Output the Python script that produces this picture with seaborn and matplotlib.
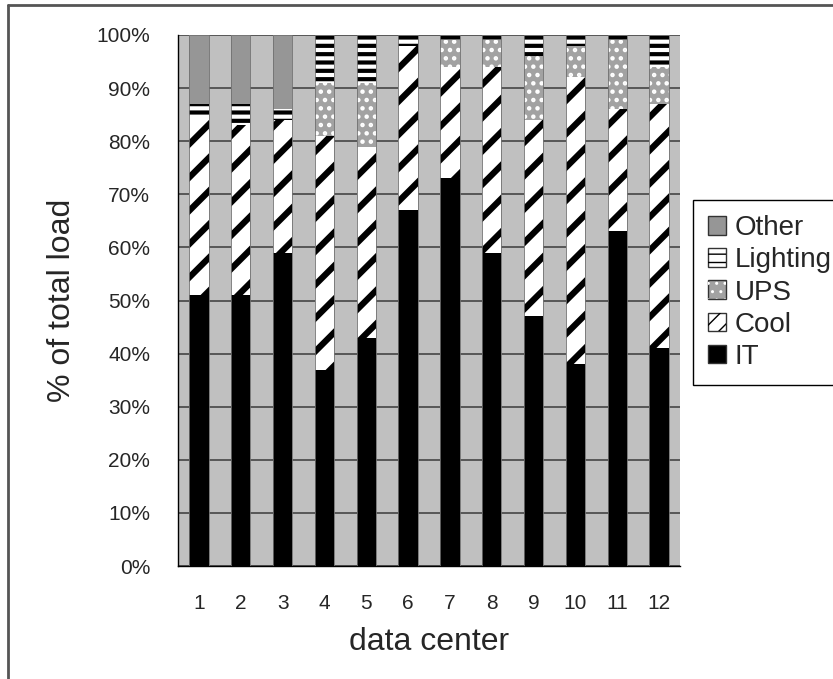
import matplotlib
matplotlib.use("Agg")
import matplotlib.pyplot as plt
import seaborn as sns
import pandas as pd
from matplotlib.patches import Patch
from matplotlib.lines import Line2D
from matplotlib.legend_handler import HandlerTuple

# ---- data (percent of total load) ----
centers = ["1", "2", "3", "4", "5", "6", "7", "8", "9", "10", "11", "12"]
it = [51, 51, 59, 37, 43, 67, 73, 59, 47, 38, 63, 41]
cool = [34, 32, 25, 44, 36, 31, 21, 35, 37, 54, 23, 46]
ups = [0, 0, 0, 10, 12, 0, 5, 5, 12, 6, 13, 7]
lighting = [2, 4, 2, 9, 9, 2, 1, 1, 4, 2, 1, 6]
other = [13, 13, 14, 0, 0, 0, 0, 0, 0, 0, 0, 0]
categories = ["IT", "Cool", "UPS", "Lighting", "Other"]
yticks = [0, 10, 20, 30, 40, 50, 60, 70, 80, 90, 100]
ytick_labels = ["0%", "10%", "20%", "30%", "40%", "50%", "60%", "70%", "80%", "90%", "100%"]

sns.set_theme(style="white")
plt.rcParams["font.family"] = ["Liberation Sans", "DejaVu Sans"]

W, H = 833, 679
fig = plt.figure(figsize=(W / 100, H / 100), dpi=100)
fig.patch.set_facecolor("white")
ax = fig.add_axes([178 / W, 1 - 566 / H, (680 - 178) / W, (566 - 35) / H])
ax.set_facecolor("#c0c0c0")

df = pd.DataFrame({"center": centers, "IT": it, "Cool": cool, "UPS": ups,
                   "Lighting": lighting, "Other": other})
cum = df[categories].cumsum(axis=1)

styles = {
    "IT": dict(face="black", hatch=None, hcolor="black", hlw=1.0, lhatch=None),
    "Cool": dict(face="white", hatch="/", hcolor="black", hlw=4.5, lhatch="//"),
    "UPS": dict(face="#a2a2a2", hatch="..", hcolor="white", hlw=2.0, lhatch=".."),
    "Lighting": dict(face="white", hatch="--", hcolor="black", hlw=3.0, lhatch="--"),
    "Other": dict(face="#969696", hatch=None, hcolor="#969696", hlw=1.0, lhatch=None),
}

for cat in reversed(categories):
    st = styles[cat]
    with plt.rc_context({"hatch.linewidth": st["hlw"]}):
        n0 = len(ax.patches)
        sns.barplot(x=df["center"], y=cum[cat], color=st["face"], saturation=1,
                    width=0.46, ax=ax, edgecolor=st["hcolor"], linewidth=0,
                    hatch=st["hatch"], errorbar=None, zorder=3)
        for p in ax.patches[n0:]:
            if hasattr(p, "set_hatch_linewidth"):
                p.set_hatch_linewidth(st["hlw"])

# outlines of the bars
sns.barplot(x=df["center"], y=cum["Other"], fill=False, width=0.46, ax=ax,
            edgecolor="#707070", linewidth=0.6, errorbar=None, zorder=4)

ax.set_xlim(-0.5, 11.5)
ax.set_ylim(0, 100)
ax.set_yticks(yticks)
ax.set_yticklabels(ytick_labels, fontsize=15)
ax.set_xticks(range(12))
ax.set_xticklabels(centers, fontsize=15)
ax.set_xticks([i - 0.5 for i in range(13)], minor=True)
ax.tick_params(axis="x", which="major", length=0, pad=20)
ax.tick_params(axis="x", which="minor", length=5, width=1, color="black", direction="out")
ax.tick_params(axis="y", which="major", length=6, width=1, color="black", direction="out", pad=14)
ax.yaxis.grid(True, color="#454545", linewidth=1.2, zorder=0)
ax.set_axisbelow(True)
for s in ["top", "right"]:
    ax.spines[s].set_visible(False)
for s in ["left", "bottom"]:
    ax.spines[s].set_color("black")
    ax.spines[s].set_linewidth(1.0)
ax.set_xlabel("data center", fontsize=23, labelpad=10)
ax.set_ylabel("% of total load", fontsize=23, labelpad=14)

# legend
handles, labels = [], []
for cat in ["Other", "Lighting", "UPS", "Cool", "IT"]:
    st = styles[cat]
    base = Patch(facecolor=st["face"], edgecolor="#333333", linewidth=1.0)
    if st["lhatch"]:
        hp = Patch(facecolor="none", edgecolor=st["hcolor"], linewidth=0, hatch=st["lhatch"])
        if hasattr(hp, "set_hatch_linewidth"):
            hp.set_hatch_linewidth(min(st["hlw"], 3.0))
        handles.append((base, hp))
    else:
        handles.append(base)
    labels.append(cat)
leg = fig.legend(handles, labels, loc="upper left", bbox_to_anchor=(693 / W, 1 - 200 / H),
                 frameon=True, fancybox=False, edgecolor="black", framealpha=1,
                 fontsize=20, handlelength=0.65, handleheight=0.65, handletextpad=0.3,
                 labelspacing=0.22, borderpad=0.55, borderaxespad=0,
                 handler_map={tuple: HandlerTuple(ndivide=1)})
leg.get_frame().set_linewidth(1.0)

# outer frame (left and top edges visible)
fig.add_artist(Line2D([7.5 / W, 7.5 / W], [0, 1 - 4.5 / H], transform=fig.transFigure,
                      color="#555555", linewidth=2))
fig.add_artist(Line2D([7.5 / W, 1], [1 - 4.5 / H, 1 - 4.5 / H], transform=fig.transFigure,
                      color="#555555", linewidth=2))

fig.savefig("out.png", dpi=100)
